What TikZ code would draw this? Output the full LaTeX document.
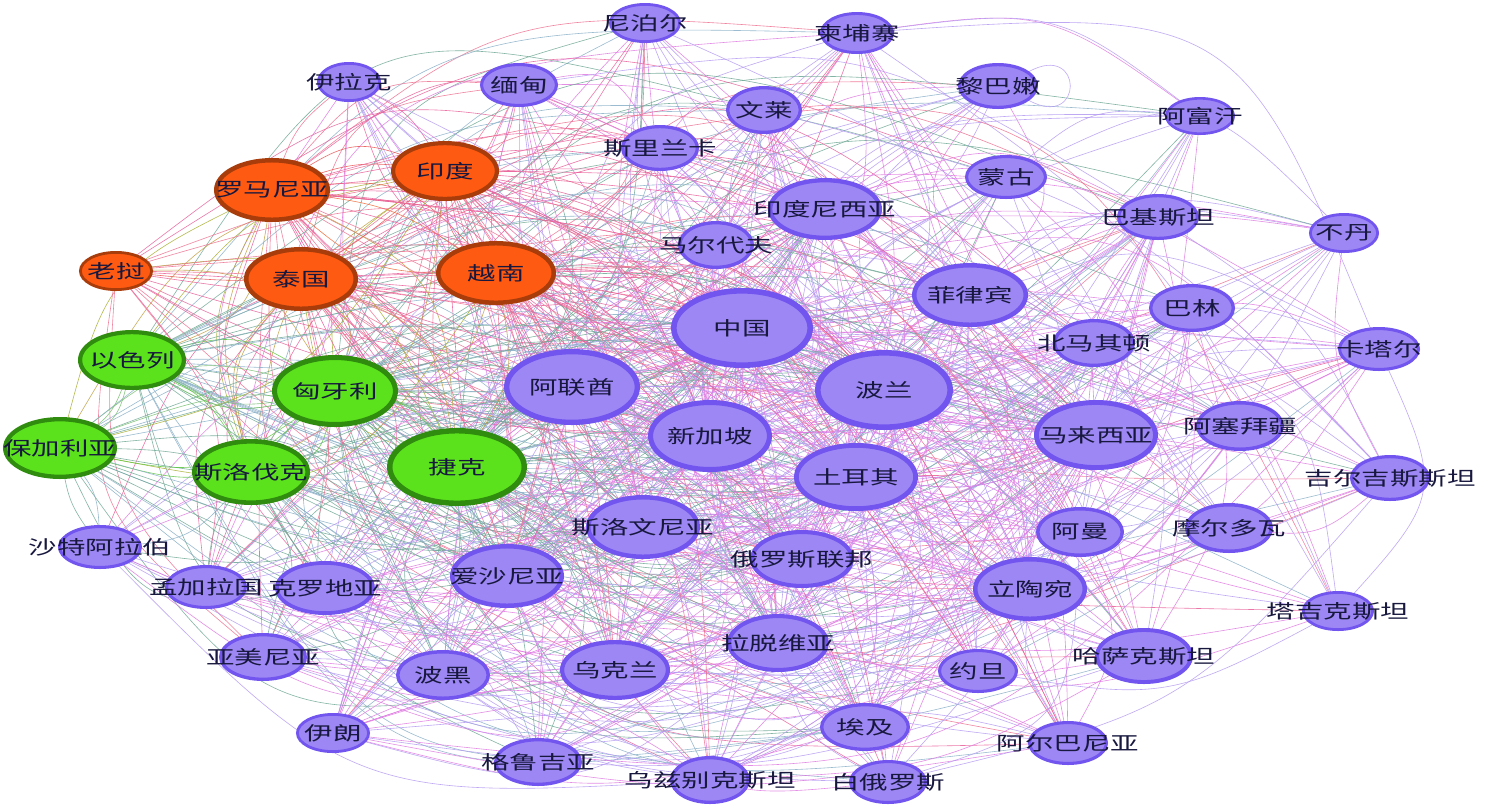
\documentclass[tikz,border=0pt]{standalone}
\usepackage{graphicx}
\usepackage{fontspec}
\newfontfamily\cjk{Noto Sans CJK SC}
\usetikzlibrary{shapes.geometric,backgrounds}
\definecolor{Pf}{HTML}{9D87F4}
\definecolor{Pd}{HTML}{7155EE}
\definecolor{Of}{HTML}{FF5A12}
\definecolor{Od}{HTML}{A83C0A}
\definecolor{Gf}{HTML}{5CE21C}
\definecolor{Gd}{HTML}{2F8C0E}
\definecolor{txt}{HTML}{18183F}
\definecolor{ePP0}{HTML}{E07BE2}
\definecolor{ePP1}{HTML}{B49BF2}
\definecolor{ePO0}{HTML}{E8609A}
\definecolor{ePO1}{HTML}{EE7090}
\colorlet{eOP0}{ePO0}\colorlet{eOP1}{ePO1}
\definecolor{ePG0}{HTML}{6FA896}
\definecolor{ePG1}{HTML}{8AB0C8}
\colorlet{eGP0}{ePG0}\colorlet{eGP1}{ePG1}
\definecolor{eOG0}{HTML}{A8B030}
\definecolor{eOG1}{HTML}{C0A040}
\colorlet{eGO0}{eOG0}\colorlet{eGO1}{eOG1}
\definecolor{eGG0}{HTML}{5CC640}
\definecolor{eGG1}{HTML}{78C070}
\definecolor{eOO0}{HTML}{F06838}
\definecolor{eOO1}{HTML}{E85050}
\tikzset{
  country/.style={ellipse, inner sep=0pt, text=txt,
    font=\cjk\fontsize{19}{19}\selectfont},
  link/.style={line width=0.6pt, draw opacity=0.85},
}
\begin{document}
\begin{tikzpicture}[x=1pt,y=-1pt]
\useasboundingbox (0,0) rectangle (1491,807);
\foreach \x/\y/\rx/\ry/\ty/\lab [count=\i] in {
 645/23/36/20/P/尼泊尔,
 857/33/37/21/P/柬埔寨,
 349/82/32/20/P/伊拉克,
 519/85/39/22/P/缅甸,
 998/86/40/23/P/黎巴嫩,
 764/110/38/24/P/文莱,
 1200/116/35/19/P/阿富汗,
 660/148/39/23/P/斯里兰卡,
 445/171/54/30/O/印度,
 272/190/58/32/O/罗马尼亚,
 1006/177/41/22/P/蒙古,
 825/209/57/31/P/印度尼西亚,
 1158/217/41/23/P/巴基斯坦,
 1344/233/35/20/P/不丹,
 716/245/38/24/P/马尔代夫,
 116/271/37/20/O/老挝,
 301/279/57/32/O/泰国,
 496/273/60/32/O/越南,
 970/295/58/32/P/菲律宾,
 1192/308/43/24/P/巴林,
 742/328/71/40/P/中国,
 1379/349/41/22/P/卡塔尔,
 1094/343/41/24/P/北马其顿,
 132/360/54/30/G/以色列,
 335/391/63/36/G/匈牙利,
 572/387/68/38/P/阿联酋,
 884/390/69/40/P/波兰,
 710/436/62/36/P/新加坡,
 1096/435/62/35/P/马来西亚,
 1240/426/44/25/P/阿塞拜疆,
 60/448/57/31/G/保加利亚,
 251/472/59/33/G/斯洛伐克,
 457/467/70/39/G/捷克,
 856/477/62/34/P/土耳其,
 1390/478/40/23/P/吉尔吉斯斯坦,
 643/527/57/32/P/斯洛文尼亚,
 1080/532/44/25/P/阿曼,
 1229/528/44/25/P/摩尔多瓦,
 100/547/42/22/P/沙特阿拉伯,
 802/559/52/29/P/俄罗斯联邦,
 507/576/57/32/P/爱沙尼亚,
 1030/589/57/32/P/立陶宛,
 206/587/41/22/P/孟加拉国,
 325/588/50/27/P/克罗地亚,
 1338/611/36/20/P/塔吉克斯坦,
 778/643/51/29/P/拉脱维亚,
 1144/656/49/28/P/哈萨克斯坦,
 263/657/44/24/P/亚美尼亚,
 443/675/47/25/P/波黑,
 615/670/55/30/P/乌克兰,
 978/671/40/22/P/约旦,
 333/733/37/20/P/伊朗,
 865/727/45/24/P/埃及,
 1068/743/40/22/P/阿尔巴尼亚,
 538/762/44/24/P/格鲁吉亚,
 710/780/40/24/P/乌兹别克斯坦,
 888/782/39/22/P/白俄罗斯}
{
  \expandafter\xdef\csname T\i\endcsname{\ty}
  \expandafter\xdef\csname X\i\endcsname{\x}
  \expandafter\xdef\csname Y\i\endcsname{\y}
  \pgfmathsetmacro{\lw}{0.14*\ry}
  \node[country, minimum width=2*\rx pt-\lw pt, minimum height=2*\ry pt-\lw pt,
        fill=\ty f, draw=\ty d, line width=\lw pt] (n\i) at (\x,\y)
        {\makebox[0pt][c]{\scalebox{1.5}[1]{\lab}}};
}
\foreach \v [count=\c] in {1,2,3,4,5,6,7,8,9,9,10,10,11,12,12,13,14,15,16,17,17,18,18,
 19,19,20,21,21,21,21,22,23,24,24,25,25,25,25,26,26,26,26,
 27,27,27,27,28,28,28,28,29,29,29,29,30,31,31,32,32,33,33,33,33,
 34,34,34,34,35,36,36,37,38,39,40,40,41,41,42,42,43,44,44,45,
 46,46,47,48,49,50,50,51,52,53,54,55,56,57}
{\expandafter\xdef\csname W\c\endcsname{\v}\xdef\wcount{\c}}
\begin{pgfonlayer}{background}
\fill[white] (0,0) rectangle (1491,807);
\pgfmathsetseed{2024}
\foreach \i/\d in {1/7,2/7,3/6,4/7,5/7,6/7,7/5,8/7,9/13,10/13,11/7,12/13,13/7,14/5,15/7,
  16/7,17/13,18/13,19/13,20/7,21/22,22/6,23/7,24/12,25/20,26/22,27/22,28/20,29/20,30/7,
  31/12,32/14,33/22,34/20,35/5,36/13,37/7,38/7,39/6,40/13,41/13,42/13,43/6,44/10,45/5,
  46/13,47/10,48/7,49/8,50/13,51/7,52/6,53/8,54/7,55/7,56/7,57/7}
{
  \pgfmathtruncatemacro{\dd}{1.7*\d}
  \foreach \k in {1,...,\dd} {
    \pgfmathrandominteger{\jj}{1}{\wcount}
    \edef\jn{\csname W\jj\endcsname}
    \pgfmathrandominteger{\kb}{12}{38}
    \pgfmathrandominteger{\cs}{0}{1}
    \ifnum\jn=\i\relax\else
      \edef\ec{e\csname T\i\endcsname\csname T\jn\endcsname\cs}
      \edef\xa{\csname X\i\endcsname}\edef\ya{\csname Y\i\endcsname}
      \edef\xb{\csname X\jn\endcsname}\edef\yb{\csname Y\jn\endcsname}
      \pgfmathsetmacro{\cx}{max(8,min(1483,(\xa+\xb)/2-\kb/100*(\yb-\ya)))}
      \pgfmathsetmacro{\cy}{max(6,min(801,(\ya+\yb)/2+\kb/100*(\xb-\xa)))}
      \draw[link,draw=\ec] (n\i.center) .. controls (\cx,\cy) .. (n\jn.center);
    \fi
  }
}
\draw[link,draw=ePP1] (n5.25) .. controls +(55,-30) and +(55,30) .. (n5.-25);
\end{pgfonlayer}
\end{tikzpicture}
\end{document}
